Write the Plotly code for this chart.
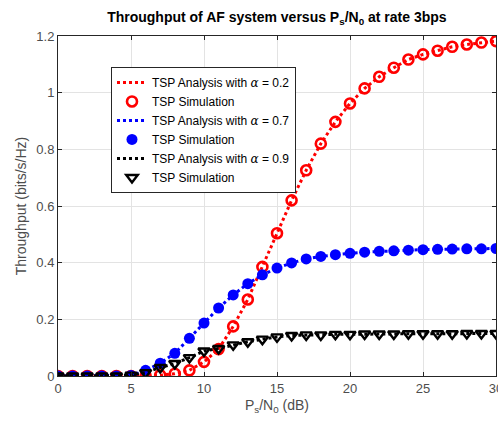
import plotly.graph_objects as go

snr_db = list(range(0, 31))

thr_a02 = [0.0, 0.0, 0.0, 0.0, 0.0, 0.0, 0.001, 0.003, 0.008, 0.02, 0.05,
           0.095, 0.175, 0.27, 0.385, 0.504, 0.62, 0.726, 0.82, 0.897, 0.962,
           1.015, 1.056, 1.088, 1.117, 1.135, 1.148, 1.162, 1.17, 1.177, 1.182]
thr_a07 = [0.0, 0.0, 0.0, 0.0, 0.0, 0.002, 0.02, 0.045, 0.08, 0.133, 0.187,
           0.24, 0.286, 0.326, 0.357, 0.381, 0.399, 0.413, 0.422, 0.428, 0.433,
           0.437, 0.44, 0.442, 0.444, 0.446, 0.447, 0.448, 0.449, 0.449, 0.45]
thr_a09 = [0.0, 0.0, 0.0, 0.0, 0.0, 0.003, 0.012, 0.03, 0.044, 0.065, 0.088,
           0.097, 0.11, 0.121, 0.13, 0.138, 0.143, 0.145, 0.145, 0.147, 0.147,
           0.148, 0.148, 0.148, 0.149, 0.149, 0.149, 0.149, 0.15, 0.15, 0.15]

x_ticks = [0, 5, 10, 15, 20, 25, 30]
y_ticks = [0, 0.2, 0.4, 0.6, 0.8, 1, 1.2]

series = [
    (thr_a02, "red", "0.2", "circle-open", dict(size=10, color="red", line=dict(width=2.6, color="red"))),
    (thr_a07, "blue", "0.7", "circle", dict(size=11, color="blue", line=dict(width=0))),
    (thr_a09, "black", "0.9", "triangle-down-open", dict(size=10, color="black", line=dict(width=2.4, color="black"))),
]

FONT = "Liberation Sans, Arial"

fig = go.Figure()
for vals, col, a, sym, mk in series:
    fig.add_trace(go.Scatter(
        x=snr_db, y=vals, mode="lines",
        line=dict(color=col, width=3, dash="dot"),
        name="TSP Analysis with <span style='font-family:DejaVu Serif'><i>α</i></span> = " + a,
    ))
    fig.add_trace(go.Scatter(
        x=snr_db, y=vals, mode="markers",
        marker=dict(symbol=sym, **mk),
        name="TSP Simulation",
    ))

axis_common = dict(
    showgrid=True, gridcolor="#e3e3e3", gridwidth=1,
    showline=True, linecolor="#262626", linewidth=1, mirror="ticks",
    ticks="inside", ticklen=4, tickcolor="#262626",
    tickfont=dict(family=FONT, size=13, color="#4d4d4d"),
    ticklabeloverflow="allow",
    zeroline=False, automargin=False,
)

fig.update_layout(
    width=498, height=423,
    margin=dict(l=58, r=2, t=36, b=47, autoexpand=False),
    paper_bgcolor="white", plot_bgcolor="white",
    title=dict(
        text="<b>Throughput of AF system versus P<sub>s</sub>/N<sub>0</sub> at rate 3bps</b>",
        x=0.556, xanchor="center", y=0.96, yanchor="middle",
        font=dict(family=FONT, size=14, color="black"),
        automargin=False,
    ),
    xaxis=dict(range=[0, 30], tickvals=x_ticks,
               title=dict(text="P<sub>s</sub>/N<sub>0</sub> (dB)", standoff=5,
                          font=dict(family=FONT, size=14, color="#4d4d4d")),
               **axis_common),
    yaxis=dict(range=[0, 1.2], tickvals=y_ticks,
               title=dict(text="Throughput (bits/s/Hz)", standoff=6,
                          font=dict(family=FONT, size=14, color="#4d4d4d")),
               **axis_common),
    legend=dict(
        x=0.121, y=0.909, xanchor="left", yanchor="top",
        bgcolor="white", bordercolor="#262626", borderwidth=1,
        font=dict(family=FONT, size=12, color="black"),
        tracegroupgap=0, itemwidth=30,
    ),
    showlegend=True,
)

fig.write_html("out.html")
